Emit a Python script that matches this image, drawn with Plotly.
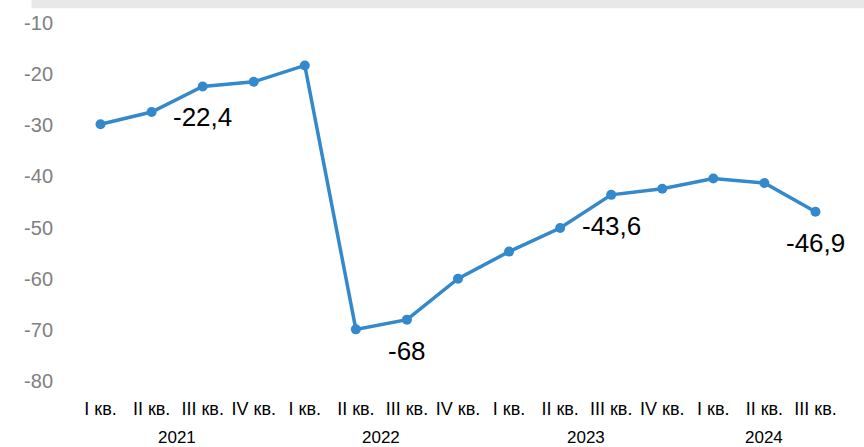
import plotly.graph_objects as go

quarters = ["I кв.", "II кв.", "III кв.", "IV кв.",
            "I кв.", "II кв.", "III кв.", "IV кв.",
            "I кв.", "II кв.", "III кв.", "IV кв.",
            "I кв.", "II кв.", "III кв."]
values = [-29.8, -27.4, -22.4, -21.5, -18.3,
          -69.9, -68.0, -60.0, -54.7, -50.1,
          -43.6, -42.4, -40.4, -41.3, -46.9]
years = ["2021", "2022", "2023", "2024"]
year_centers = [1.5, 5.5, 9.5, 13.0]
labelled = [2, 6, 10, 14]
label_texts = ["-22,4", "-68", "-43,6", "-46,9"]
y_ticks = [-80, -70, -60, -50, -40, -30, -20, -10]
y_tick_text = ["-80", "-70", "-60", "-50", "-40", "-30", "-20", "-10"]

x = list(range(len(values)))
FONT = "Liberation Sans, Arial, sans-serif"

fig = go.Figure()
fig.add_trace(go.Scatter(
    x=x, y=values, mode="lines+markers",
    line=dict(color="#3389CB", width=3.5),
    marker=dict(color="#3389CB", size=10),
    hoverinfo="skip", showlegend=False,
))

annotations = []
for i, t in zip(labelled, label_texts):
    annotations.append(dict(x=i, y=values[i], xref="x", yref="y", text=t,
                            showarrow=False, yanchor="middle", yshift=-31,
                            font=dict(family=FONT, size=26, color="#000000")))
for yr, c in zip(years, year_centers):
    annotations.append(dict(x=c, y=-0.157, xref="x", yref="paper", text=yr,
                            showarrow=False, yanchor="middle",
                            font=dict(family=FONT, size=17, color="#000000")))

fig.update_layout(
    width=864, height=447,
    margin=dict(l=74.5, r=22.5, t=16, b=66),
    paper_bgcolor="white", plot_bgcolor="white",
    font=dict(family=FONT),
    annotations=annotations,
    shapes=[dict(type="rect", xref="paper", yref="paper",
                 x0=-0.0567, x1=1.03, y0=1.0415, y1=1.07,
                 fillcolor="#e8e8e8", line=dict(width=0), layer="below")],
    xaxis=dict(range=[-0.5, 14.5], tickmode="array", tickvals=x, ticktext=quarters,
               showgrid=False, zeroline=False, showline=False,
               ticks="outside", ticklen=11, tickcolor="rgba(0,0,0,0)",
               tickfont=dict(family=FONT, size=18, color="#000000"), tickangle=0),
    yaxis=dict(range=[-80, -10], tickmode="array", tickvals=y_ticks, ticktext=y_tick_text,
               showgrid=False, zeroline=False, showline=False,
               ticks="outside", ticklen=17, tickcolor="rgba(0,0,0,0)",
               tickfont=dict(family=FONT, size=20, color="#808080")),
)

fig.write_html("out.html")
